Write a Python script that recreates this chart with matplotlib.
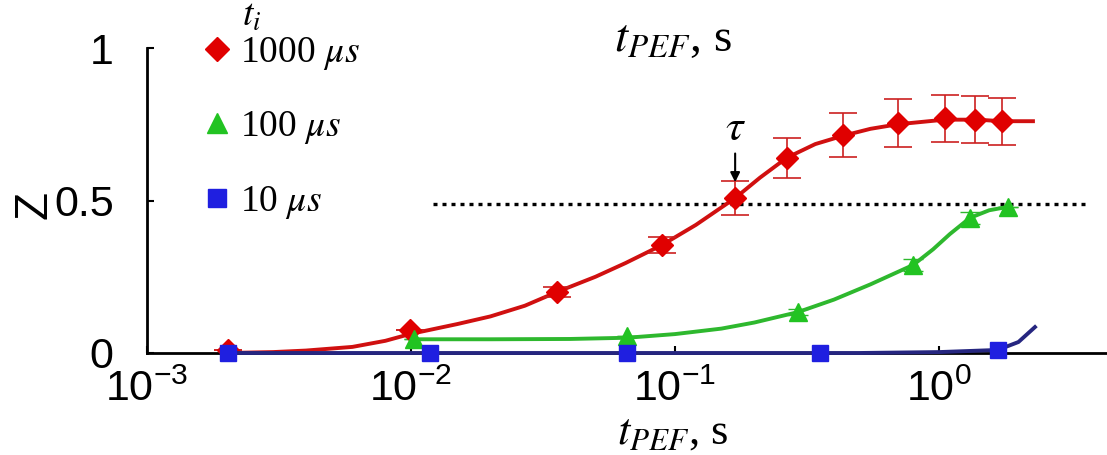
import numpy as np
import matplotlib.pyplot as plt

plt.rcParams['font.family'] = ['Liberation Sans', 'DejaVu Sans']
plt.rcParams['mathtext.fontset'] = 'stix'

# measured points (t_PEF in s, Z)
t_red = [0.00203, 0.0099, 0.0357, 0.0893, 0.169, 0.265, 0.432, 0.70, 1.05, 1.37, 1.73]
z_red = [0.01, 0.075, 0.20, 0.354, 0.508, 0.64, 0.715, 0.754, 0.77, 0.764, 0.76]
err_red = [0.0, 0.0, 0.015, 0.025, 0.055, 0.066, 0.072, 0.08, 0.077, 0.077, 0.077]

t_green = [0.0103, 0.0658, 0.292, 0.80, 1.31, 1.82]
z_green = [0.045, 0.055, 0.134, 0.289, 0.443, 0.479]
err_green = [0.0, 0.0, 0.01, 0.02, 0.02, 0.0]

t_blue = [0.00203, 0.0118, 0.0658, 0.354, 1.67]
z_blue = [0.0, 0.0, 0.0, 0.0, 0.01]

# fitted curves
t_red_fit = [0.002, 0.003, 0.004, 0.006, 0.008, 0.0099, 0.015, 0.02, 0.027, 0.0357, 0.05, 0.065,
             0.0893, 0.12, 0.169, 0.21, 0.265, 0.34, 0.432, 0.55, 0.70, 1.05, 1.4, 1.73, 2.27]
z_red_fit = [0.0, 0.003, 0.008, 0.02, 0.04, 0.062, 0.095, 0.12, 0.155, 0.20, 0.25, 0.295,
             0.354, 0.42, 0.508, 0.575, 0.64, 0.685, 0.712, 0.735, 0.75, 0.765, 0.765, 0.76, 0.76]

t_green_fit = [0.0103, 0.02, 0.04, 0.0658, 0.1, 0.15, 0.2, 0.292, 0.4, 0.55, 0.80, 0.95, 1.1,
               1.31, 1.55, 1.82]
z_green_fit = [0.045, 0.045, 0.046, 0.05, 0.062, 0.08, 0.1, 0.134, 0.175, 0.225, 0.289, 0.34,
               0.39, 0.443, 0.468, 0.479]

t_blue_fit = [0.002, 0.01, 0.1, 0.5, 1.0, 1.67, 2.0, 2.31]
z_blue_fit = [0.0, 0.0, 0.0, 0.0, 0.003, 0.01, 0.036, 0.085]

z_tau = 0.487
t_tau = 0.169

RED = '#e00000'
GREEN = '#22c322'
BLUE = '#1f1fe0'

fig = plt.figure(figsize=(11.07, 4.55), dpi=100)
ax = fig.add_axes([147 / 1107, 102 / 455, 960 / 1107, 305 / 455])

ax.plot(t_red_fit, z_red_fit, color='#d01010', lw=2.8, zorder=3)
ax.errorbar(t_red, z_red, yerr=err_red, fmt='none', ecolor='#cc2020', elinewidth=1.2,
            capsize=10, capthick=1.2, zorder=3)
ax.plot(t_red, z_red, 'D', color=RED, ms=11, ls='none', label=r'1000 $\mu s$', zorder=4)

ax.plot(t_green_fit, z_green_fit, color='#2eb82e', lw=2.8, zorder=3)
ax.errorbar(t_green, z_green, yerr=err_green, fmt='none', ecolor='#2eb82e', elinewidth=1.2,
            capsize=7, zorder=3)
ax.plot(t_green, z_green, '^', color=GREEN, ms=13, ls='none', label=r'100 $\mu s$', zorder=4)

ax.plot(t_blue_fit, z_blue_fit, color='#262680', lw=2.8, zorder=5, clip_on=False)
ax.plot(t_blue, z_blue, 's', color=BLUE, ms=12, ls='none', label=r'10 $\mu s$', zorder=6,
        clip_on=False)

ax.hlines(z_tau, 0.0121, 3.57, colors='k', linestyles=(0, (1.2, 1.5)), lw=2.4, zorder=2)
ax.annotate(r'$\tau$', xy=(t_tau, 0.56), xytext=(t_tau, 0.735), fontsize=32,
            ha='center', va='center',
            arrowprops=dict(arrowstyle='-|>', color='k', lw=1.5, mutation_scale=14,
                            shrinkA=1, shrinkB=0))

ax.set_xscale('log')
ax.set_xlim(1e-3, 4.33)
ax.set_ylim(0, 1)
ax.set_yticks([0, 0.5, 1])
ax.set_yticklabels(['0', '0.5', '1'])
ax.set_xticks([1e-3, 1e-2, 1e-1, 1])
ax.xaxis.set_minor_locator(plt.NullLocator())
ax.tick_params(axis='both', direction='in', length=5, width=1.5, labelsize=31)
ax.tick_params(axis='y', pad=24)
ax.tick_params(axis='x', pad=12)

for s in ['top', 'right']:
    ax.spines[s].set_visible(False)
ax.spines['left'].set_linewidth(2)
ax.spines['bottom'].set_linewidth(2)

fig.text(35 / 1107, 1 - 205 / 455, 'Z', fontsize=33, rotation=90, ha='center', va='center')
fig.text(673 / 1107, 1 - 40 / 455, r'$t_{PEF}$, s', fontsize=34, family='Liberation Serif',
         ha='center', va='center')
fig.text(673 / 1107, 1 - 433 / 455, r'$t_{PEF}$, s', fontsize=32, family='Liberation Serif',
         ha='center', va='center')
fig.text(252 / 1107, 1 - 16 / 455, r'$t_i$', fontsize=27, ha='center', va='center')

ax.legend(loc='upper left', bbox_to_anchor=(203 / 1107, 1 - 35 / 455),
          bbox_transform=fig.transFigure, frameon=False,
          prop={'family': 'Liberation Serif', 'size': 27}, handlelength=0.75,
          handletextpad=0.25, labelspacing=1.0, borderpad=0, borderaxespad=0, markerscale=1.1)

fig.savefig('out.png', dpi=100)
